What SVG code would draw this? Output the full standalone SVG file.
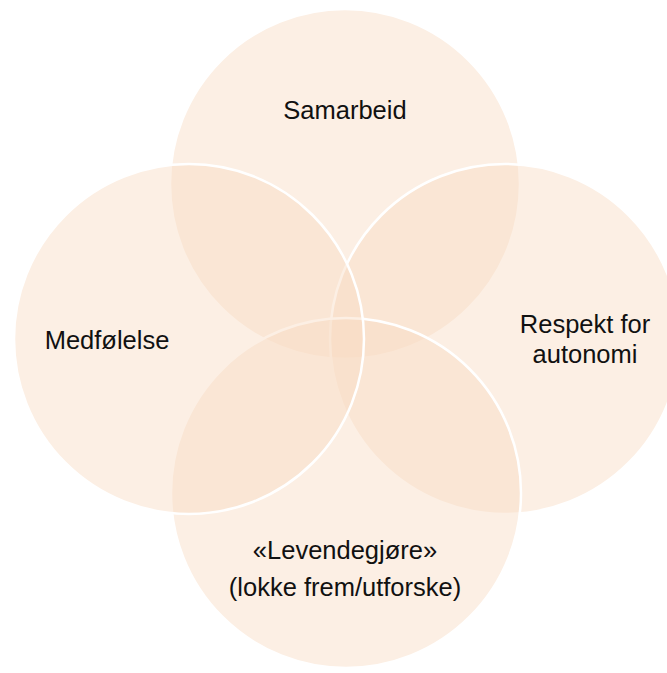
<svg xmlns="http://www.w3.org/2000/svg" width="667" height="673" viewBox="0 0 667 673">
<style>
.c{fill:#F9DCC4;fill-opacity:0.45;stroke:#FFFFFF;stroke-width:2.5}
.t{font-family:"Liberation Sans",Arial,sans-serif;font-size:25.5px;fill:#111111;text-anchor:middle}
</style>
<rect width="667" height="673" fill="#FFFFFF"/>
<g id="top"><circle class="c" cx="345" cy="184" r="175"/><text class="t" x="345" y="119">Samarbeid</text></g>
<g id="right"><circle class="c" cx="505" cy="339" r="175"/><text class="t" x="585" y="333">Respekt for</text><text class="t" x="585" y="363">autonomi</text></g>
<g id="bottom"><circle class="c" cx="346" cy="493" r="175"/><text class="t" x="345" y="559">«Levendegjøre»</text><text class="t" x="345" y="596">(lokke frem/utforske)</text></g>
<g id="left"><circle class="c" cx="189" cy="339" r="175"/><text class="t" x="107" y="349">Medfølelse</text></g>
<g id="connectors"></g>
</svg>
